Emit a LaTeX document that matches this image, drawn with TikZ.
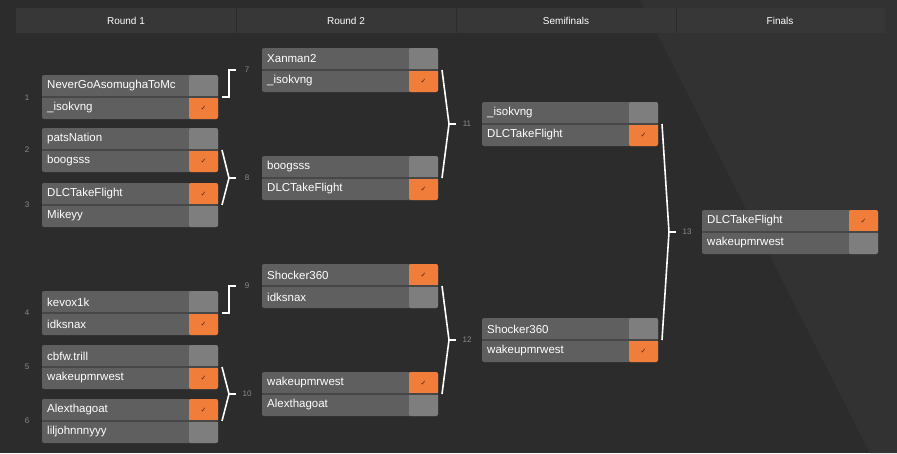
\documentclass[tikz,border=0pt]{standalone}
\usepackage{fontspec}
\setmainfont{Liberation Sans}
\newfontfamily\symf{DejaVu Sans}
\usetikzlibrary{calc}
\definecolor{bgA}{HTML}{2C2C2C}
\definecolor{bgB}{HTML}{323232}
\definecolor{hdr}{HTML}{373737}
\definecolor{cellN}{HTML}{5F5F5F}
\definecolor{cellS}{HTML}{7E7E7E}
\definecolor{win}{HTML}{F07D3A}
\definecolor{sep}{HTML}{474747}
\definecolor{lab}{HTML}{8A8A8A}
\tikzset{
 box/.style={draw=none,fill=cellN,rounded corners=2pt,minimum width=176pt,minimum height=44pt,inner sep=0pt,outer sep=0pt,anchor=north west},
 pname/.style={anchor=west,text=white,font=\fontsize{11.5}{12}\selectfont,inner sep=0pt},
 bracket/.style={draw=white,line width=1.6pt},
 mlab/.style={text=lab,font=\fontsize{8}{9}\selectfont},
 htext/.style={text=white,font=\fontsize{10}{11}\selectfont}
}
% #1 id, #2 x, #3 y, #4 top name, #5 bottom name, #6 winner (1 or 2)
\newcommand\bmatch[6]{%
 \node[box] (m#1) at (#2,#3) {};
 \node[pname] (m#1a) at (#2+5,#3+11) {#4};
 \node[pname] (m#1b) at (#2+5,#3+33) {#5};
 \ifnum#6=1
  \fill[win,rounded corners=2pt] (#2+147,#3) rectangle (#2+176,#3+22);
  \fill[cellS,rounded corners=2pt] (#2+147,#3+22) rectangle (#2+176,#3+44);
  \node[text=black!70!win,font=\symf\fontsize{7}{7}\selectfont] at (#2+161.5,#3+11) {✓};
 \else
  \fill[cellS,rounded corners=2pt] (#2+147,#3) rectangle (#2+176,#3+22);
  \fill[win,rounded corners=2pt] (#2+147,#3+22) rectangle (#2+176,#3+44);
  \node[text=black!70!win,font=\symf\fontsize{7}{7}\selectfont] at (#2+161.5,#3+33) {✓};
 \fi
 \fill[cellS] (#2+147,#3+20) rectangle (#2+176,#3+24);
 \ifnum#6=1 \fill[win] (#2+147,#3+19) rectangle (#2+176,#3+22);\else \fill[win] (#2+147,#3+22) rectangle (#2+176,#3+25);\fi
 \draw[sep,line width=1.2pt] (#2,#3+22) -- (#2+176,#3+22);
}
\begin{document}
\begin{tikzpicture}[x=1pt,y=-1pt]
\useasboundingbox (0,0) rectangle (897,453);
\fill[bgA] (0,0) rectangle (897,453);
\fill[bgB] (640,0) -- (897,0) -- (897,453) -- (870,453) -- cycle;
\fill[hdr] (16,8) rectangle (885,33);
\foreach \xx in {236,456,676} \draw[bgA,line width=0.8pt] (\xx,8) -- (\xx,33);
\node[htext] (h1) at (126,20.5) {Round 1};
\node[htext] (h2) at (346,20.5) {Round 2};
\node[htext] (h3) at (566,20.5) {Semifinals};
\node[htext] (h4) at (780,20.5) {Finals};
\bmatch{1}{42}{75}{NeverGoAsomughaToMc}{\_isokvng}{2}
\bmatch{2}{42}{128}{patsNation}{boogsss}{2}
\bmatch{3}{42}{183}{DLCTakeFlight}{Mikeyy}{1}
\bmatch{4}{42}{291}{kevox1k}{idksnax}{2}
\bmatch{5}{42}{345}{cbfw.trill}{wakeupmrwest}{2}
\bmatch{6}{42}{399}{Alexthagoat}{liljohnnnyyy}{1}
\bmatch{7}{262}{48}{Xanman2}{\_isokvng}{2}
\bmatch{8}{262}{156}{boogsss}{DLCTakeFlight}{2}
\bmatch{9}{262}{264}{Shocker360}{idksnax}{1}
\bmatch{10}{262}{372}{wakeupmrwest}{Alexthagoat}{1}
\bmatch{11}{482}{102}{\_isokvng}{DLCTakeFlight}{2}
\bmatch{12}{482}{318}{Shocker360}{wakeupmrwest}{2}
\bmatch{13}{702}{210}{DLCTakeFlight}{wakeupmrwest}{1}
\foreach \i/\yy in {1/98,2/150,3/205,4/313,5/367,6/421}
  \node[mlab] (r\i) at (27,\yy) {\i};
% single feeders
\draw[bracket] ($(m1.east)+(4,0)$) -| ($(m7.west)+(-33,0)$) -- ($(m7.west)+(-26,0)$);
\draw[bracket] ($(m4.east)+(4,0)$) -| ($(m9.west)+(-33,0)$) -- ($(m9.west)+(-26,0)$);
% pair feeders
\foreach \a/\b/\c in {2/3/8,5/6/10,7/8/11,9/10/12,11/12/13}{
 \draw[bracket] ($(m\a.east)+(4,0)$) -- ($(m\c.west)+(-33,0)$ |- m\a.east) -- ($(m\c.west)+(-33,0)$ |- m\b.east) -- ($(m\b.east)+(4,0)$);
 \draw[bracket] ($(m\c.west)+(-33,0)$) -- ($(m\c.west)+(-26,0)$);
}
\foreach \c in {7,8,9,10,11,12,13}
 \node[mlab] (l\c) at ($(m\c.west)+(-15,0)$) {\c};
\end{tikzpicture}
\end{document}
